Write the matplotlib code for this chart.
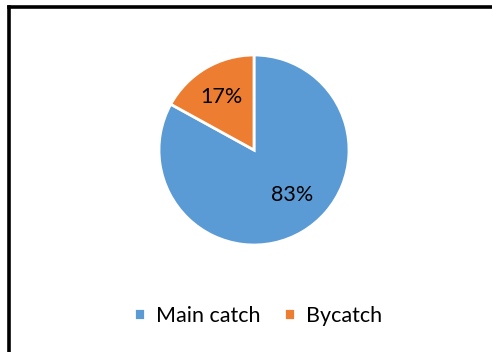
import matplotlib.pyplot as plt
from matplotlib.lines import Line2D

plt.rcParams['font.family'] = ['Lato', 'DejaVu Sans']

# catch composition
categories = ['Main catch', 'Bycatch']
shares = [83, 17]
colors = ['#5B9BD5', '#ED7D31']

W, H = 492, 352
fig = plt.figure(figsize=(W / 100, H / 100), dpi=100)

# chart frame (only top and left edges fall inside the canvas)
fig.add_artist(Line2D([8.5 / W, 1], [1 - 6.5 / H, 1 - 6.5 / H], transform=fig.transFigure,
                      color='black', lw=2.6))
fig.add_artist(Line2D([8.5 / W, 8.5 / W], [0, 1 - 6.5 / H], transform=fig.transFigure,
                      color='black', lw=2.6))

cx, cy, r = 254, 150, 95
ax = fig.add_axes([(cx - r) / W, (H - cy - r) / H, 2 * r / W, 2 * r / H])
wedges, texts, autotexts = ax.pie(
    shares, colors=colors, startangle=90, counterclock=False,
    autopct='%d%%', pctdistance=0.66,
    wedgeprops=dict(edgecolor='white', linewidth=2),
    textprops=dict(fontsize=15.5, color='black'))
autotexts[0].set_position((0.40, -0.47))
autotexts[1].set_position((-0.34, 0.56))
ax.set_xlim(-1.0, 1.0)
ax.set_ylim(-1.0, 1.0)
ax.set_aspect('equal')
ax.axis('off')

fig.legend(wedges, categories, loc='center', bbox_to_anchor=(258 / W, 1 - 316 / H),
           ncol=2, frameon=False, fontsize=15.5, handlelength=0.5, handleheight=0.5,
           handletextpad=0.5, columnspacing=1.1)

fig.savefig('out.png', dpi=100)
